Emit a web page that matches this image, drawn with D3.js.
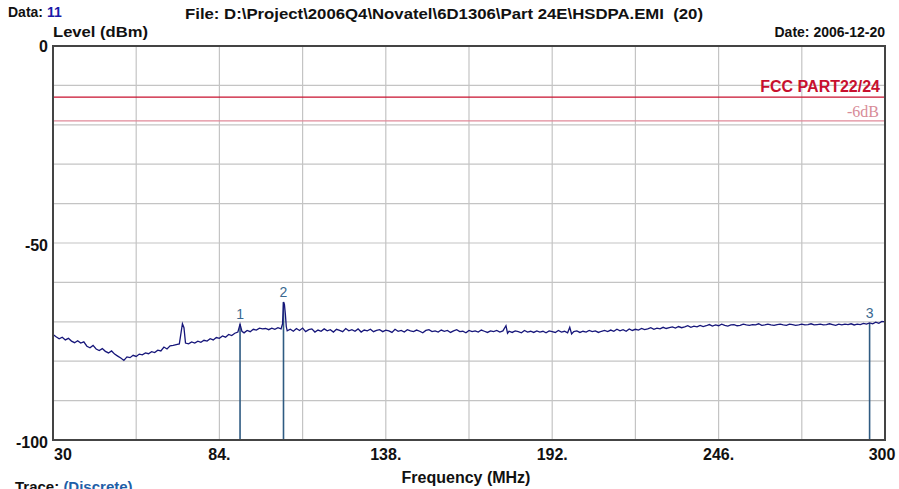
<!DOCTYPE html>
<html>
<head>
<meta charset="utf-8">
<script src="https://cdn.jsdelivr.net/npm/d3@7/dist/d3.min.js"></script>
<style>
  html, body { margin: 0; padding: 0; background: #fff; }
  svg text { font-family: "Liberation Sans", Arial, sans-serif; }
</style>
</head>
<body>
<svg id="chart" width="899" height="489"></svg>
<script>
// ---------------- DATA ----------------
const traceFreq = [
  30, 31, 32, 33, 34, 35, 36, 37, 38, 39,
  40, 41, 42, 43, 44, 45, 46, 47, 48, 49,
  50, 51, 52, 53, 54, 55, 56, 57, 58, 59,
  60, 61, 62, 63, 64, 65, 66, 67, 68, 69,
  70, 71, 72, 72.5, 73,
  74, 75, 76, 77, 78, 79,
  80, 81, 82, 83, 84, 85, 86, 87, 88, 89,
  90, 90.7, 91.3, 92,
  93, 94, 95, 96, 97, 98, 99, 100, 101, 102, 103,
  104, 104.5, 104.8, 105.1, 105.4, 105.7, 106,
  107, 108, 109, 110, 111, 112, 113, 114, 115, 116,
  117, 118, 119, 120, 121, 122, 123, 124, 125, 126,
  127, 128, 129, 130, 131, 132, 133, 134, 135, 136,
  137, 138, 139, 140, 141, 142, 143, 144, 145, 146,
  147, 148, 149, 150, 151, 152, 153, 154, 155, 156,
  157, 158, 159, 160, 161, 162, 163, 164, 165, 166,
  167, 168, 169, 170, 171, 172, 173, 174, 175, 176,
  177, 177.5,
  178, 179, 180, 181, 182, 183, 184, 185, 186, 187,
  188, 189, 190, 191, 192, 193, 194, 195, 196, 197,
  197.7, 198.3,
  199, 200, 201, 202, 203, 204, 205, 206, 207, 208,
  209, 210, 211, 212, 213, 214, 215, 216, 217, 218,
  219, 220, 221, 222, 223, 224, 225, 226, 227, 228,
  229, 230, 231, 232, 233, 234, 235, 236, 237, 238,
  239, 240, 241, 242, 243, 244, 245, 246, 247, 248,
  249, 250, 251, 252, 253, 254, 255, 256, 257, 258,
  259, 260, 261, 262, 263, 264, 265, 266, 267, 268,
  269, 270, 271, 272, 273, 274, 275, 276, 277, 278,
  279, 280, 281, 282, 283, 284, 285, 286, 287, 288,
  289, 290, 291, 292, 293, 294, 295, 296, 297, 298, 299, 300
];
const traceLevel = [
  -73.2, -73.8, -74.3, -73.9, -74.6, -74.2, -74.9, -75.3, -74.8, -75.4,
  -75.1, -76.2, -76.6, -76.0, -76.9, -77.3, -76.8, -77.5, -77.9, -77.4,
  -78.2, -78.7, -79.2, -79.8, -78.9, -79.1, -78.5, -78.8, -78.2, -78.4,
  -77.9, -78.1, -77.6, -77.8, -77.2, -77.4, -76.4, -76.9, -76.1, -76.0,
  -75.8, -75.6, -70.5, -71.5, -75.4,
  -75.6, -75.1, -75.4, -74.9, -75.2, -74.7,
  -74.9, -74.3, -74.6, -74.0, -74.2, -73.6, -73.9, -73.2, -73.5, -72.9,
  -72.6, -70.6, -72.4, -72.8,
  -72.2, -72.5, -71.9, -72.1, -71.6, -71.8, -71.7, -72.0, -71.6, -71.9, -71.5,
  -71.8, -70.5, -65.0, -65.6, -68.0, -71.2, -72.3,
  -71.9, -72.4, -71.7, -72.2, -71.6, -72.5, -72.0, -71.8, -72.6, -72.1,
  -72.4, -71.8, -72.3, -72.0, -72.6, -71.9, -72.2, -72.5, -71.7, -72.3,
  -72.0, -72.4, -71.8, -72.6, -72.1, -72.3, -71.9, -72.5, -72.2, -72.0,
  -72.5, -72.1, -72.3, -72.7, -71.9, -72.4, -72.2, -72.6, -72.0, -72.3,
  -72.5, -72.1, -72.4, -72.8, -72.2, -72.0, -72.5, -72.3, -72.6, -72.1,
  -72.4, -72.2, -72.7, -72.3, -72.0, -72.5, -72.4, -72.8, -72.2, -72.5,
  -72.3, -72.6, -72.1, -72.4, -72.7, -72.3, -72.5, -72.2, -72.6, -72.3,
  -71.0, -72.9,
  -72.4, -72.7, -72.3, -72.5, -72.8, -72.2, -72.6, -72.4, -72.7, -72.3,
  -72.6, -72.4, -72.8, -72.3, -72.5, -72.7, -72.2, -72.6, -72.4, -72.8,
  -71.4, -73.1,
  -72.5, -72.3, -72.7, -72.4, -72.6, -72.2, -72.5, -72.3, -72.7, -72.4,
  -72.2, -72.5, -72.1, -72.4, -71.9, -72.3, -72.0, -72.4, -71.8, -72.2,
  -71.9, -72.1, -71.7, -72.0, -71.8, -71.5, -71.9, -71.6, -71.8, -71.4,
  -71.7, -71.5, -71.3, -71.6, -71.2, -71.5, -71.3, -71.0, -71.4, -71.1,
  -71.3, -70.9, -71.2, -71.0, -70.7, -71.1, -70.8, -71.0, -70.6, -70.9,
  -71.1, -70.8, -70.7, -71.0, -70.9, -70.6, -70.8, -70.9, -70.7, -70.8,
  -70.5, -70.9, -70.8, -70.6, -70.8, -70.9, -70.7, -70.6, -70.8, -70.9,
  -70.6, -70.7, -70.9, -70.8, -70.6, -70.8, -70.7, -70.5, -70.8, -70.7,
  -70.6, -70.8, -70.7, -70.5, -70.7, -70.9, -70.6, -70.8, -70.6, -70.7,
  -70.5, -70.8, -70.6, -70.7, -70.4, -70.6, -70.3, -70.5, -70.1, -70.4, -69.9, -70.0
];
const markerLabels = ["1", "2", "3"];
const markerFreq = [90.7, 104.8, 295.0];
const markerLevel = [-70.6, -65.0, -70.3];
const limitNames = ["FCC PART22/24", "-6dB"];
const limitLevels = [-13, -19];
const xTickValues = [30, 84, 138, 192, 246, 300];
const xTickLabels = ["30", "84.", "138.", "192.", "246.", "300"];
const yTickValues = [0, -50, -100];
const yTickLabels = ["0", "-50", "-100"];

// ---------------- DRAW ----------------
const svg = d3.select("#chart");
const L = 53, R = 885, T = 46, B = 440;
const x = d3.scaleLinear().domain([30, 300]).range([L, R]);
const y = d3.scaleLinear().domain([-100, 0]).range([B, T]);

// grid
const gx = d3.range(0, 11).map(i => 30 + i * 27);
const gy = d3.range(0, 11).map(i => -100 + i * 10);
svg.append("g").selectAll("line").data(gx).join("line")
  .attr("x1", d => x(d)).attr("x2", d => x(d)).attr("y1", T).attr("y2", B)
  .attr("stroke", "#c4c4c4").attr("stroke-width", 1.2);
svg.append("g").selectAll("line").data(gy).join("line")
  .attr("x1", L).attr("x2", R).attr("y1", d => y(d)).attr("y2", d => y(d))
  .attr("stroke", "#c4c4c4").attr("stroke-width", 1.2);

// limit lines
const limitColors = ["#c8102e", "#e08a9a"];
const limitTextColors = ["#c8102e", "#d88c98"];
svg.append("g").selectAll("line").data(limitLevels).join("line")
  .attr("x1", L).attr("x2", R).attr("y1", d => y(d)).attr("y2", d => y(d))
  .attr("stroke", (d, i) => limitColors[i]).attr("stroke-width", 1.3);
svg.append("text").attr("x", 880).attr("y", y(limitLevels[0]) - 5)
  .attr("text-anchor", "end").attr("font-size", 16).attr("font-weight", "bold")
  .attr("fill", limitTextColors[0]).text(limitNames[0]);
svg.append("text").attr("x", 879).attr("y", y(limitLevels[1]) - 4)
  .attr("text-anchor", "end").attr("font-size", 16)
  .style("font-family", "'Liberation Serif', 'Times New Roman', serif")
  .attr("fill", limitTextColors[1]).text(limitNames[1]);

// markers
const markerColor = "#2f5b82";
svg.append("g").selectAll("line").data(markerFreq).join("line")
  .attr("x1", d => x(d)).attr("x2", d => x(d))
  .attr("y1", (d, i) => y(markerLevel[i])).attr("y2", B)
  .attr("stroke", markerColor).attr("stroke-width", 1.6);
svg.append("g").selectAll("text").data(markerFreq).join("text")
  .attr("x", d => x(d)).attr("y", (d, i) => y(markerLevel[i]) - 5)
  .attr("text-anchor", "middle").attr("font-size", 14)
  .attr("fill", "#3a6890").text((d, i) => markerLabels[i]);

// trace
const pts = traceFreq.map((f, i) => [f, traceLevel[i]]);
svg.append("path").datum(pts)
  .attr("d", d3.line().x(d => x(d[0])).y(d => y(d[1])))
  .attr("fill", "none").attr("stroke", "#16167a").attr("stroke-width", 1.3)
  .attr("stroke-linejoin", "miter");

// frame
svg.append("rect").attr("x", L).attr("y", T).attr("width", R - L).attr("height", B - T)
  .attr("fill", "none").attr("stroke", "#444").attr("stroke-width", 2);

// axis labels
svg.append("g").selectAll("text").data(yTickValues).join("text")
  .attr("x", 48).attr("y", d => y(d) + (d === 0 ? 6 : 8))
  .attr("text-anchor", "end").attr("font-size", 16).attr("font-weight", "bold")
  .attr("fill", "#111").text((d, i) => yTickLabels[i]);
svg.append("g").selectAll("text").data(xTickValues).join("text")
  .attr("x", (d, i) => i === 0 ? x(d) + 1 : (i === xTickValues.length - 1 ? x(d) - 3 : x(d)))
  .attr("y", 460)
  .attr("text-anchor", (d, i) => i === 0 ? "start" : "middle")
  .attr("font-size", 16).attr("font-weight", "bold")
  .attr("fill", "#111").text((d, i) => xTickLabels[i]);

svg.append("text").attr("x", 466).attr("y", 483).attr("text-anchor", "middle")
  .attr("font-size", 16).attr("font-weight", "bold").attr("fill", "#111").text("Frequency (MHz)");
svg.append("text").attr("x", 53).attr("y", 37)
  .attr("font-size", 15).attr("font-weight", "bold").attr("fill", "#111")
  .attr("textLength", 95).attr("lengthAdjust", "spacingAndGlyphs").text("Level (dBm)");

// header
const h1 = svg.append("text").attr("x", 8).attr("y", 17).attr("font-size", 14).attr("font-weight", "bold");
h1.append("tspan").attr("fill", "#111").text("Data: ");
h1.append("tspan").attr("fill", "#1a1aa8").text("11");
svg.append("text").attr("x", 185).attr("y", 19).attr("font-size", 14).attr("font-weight", "bold")
  .attr("fill", "#111").attr("xml:space", "preserve").style("white-space", "pre")
  .attr("textLength", 518).attr("lengthAdjust", "spacingAndGlyphs")
  .text("File: D:\\Project\\2006Q4\\Novatel\\6D1306\\Part 24E\\HSDPA.EMI  (20)");
svg.append("text").attr("x", 885).attr("y", 37).attr("text-anchor", "end")
  .attr("font-size", 14).attr("font-weight", "bold").attr("fill", "#111").text("Date: 2006-12-20");

const t2 = svg.append("text").attr("x", 15).attr("y", 492).attr("font-size", 15).attr("font-weight", "bold");
t2.append("tspan").attr("fill", "#111").text("Trace: ");
t2.append("tspan").attr("fill", "#1f5fa8").text("(Discrete)");
</script>
</body>
</html>
